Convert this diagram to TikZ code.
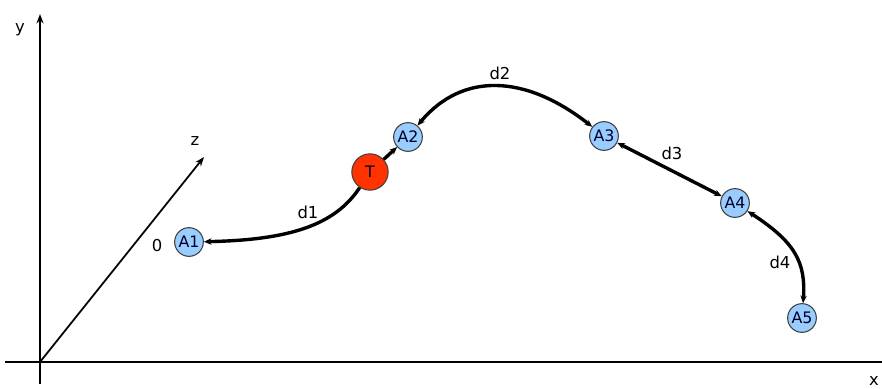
\documentclass[tikz,border=0pt]{standalone}
\usepackage{fontspec}
\setmainfont{DejaVu Sans}
\usetikzlibrary{arrows.meta}
\definecolor{nodeblue}{HTML}{99CCFF}
\definecolor{tred}{HTML}{FF3300}
\begin{document}
\begin{tikzpicture}[x=0.03cm,y=-0.03cm,
  pt/.style={circle,draw=black!75,line width=0.9pt,fill=nodeblue,minimum size=24.5pt,inner sep=0pt,font=\fontsize{13.5}{13.5}\selectfont,text=black!85!blue},
  tnode/.style={pt,fill=tred,minimum size=31pt},
  conn/.style={line width=2.9pt,arrows={Stealth[length=6.5pt,width=5.5pt]-Stealth[length=6.5pt,width=5.5pt]}},
  axis/.style={line width=2pt},
  lbl/.style={font=\fontsize{14}{14}\selectfont,text=black}]
\useasboundingbox (0,0) rectangle (882,389);
% axes
\coordinate (O) at (40,362);
\coordinate (ytop) at (40,14);
\coordinate (ybot) at (40,384);
\coordinate (xl) at (5,362);
\coordinate (xr) at (895,362);
\coordinate (ztip) at (204,157);
\draw[axis,-{Stealth[length=8pt,width=6pt]}] (ybot) -- (ytop);
\draw[axis] (xl) -- (xr);
\draw[line width=1.5pt,-{Stealth[length=8pt,width=6pt]}] (O) -- (ztip);
\node[lbl] (ylab) at (20,30) {y};
\node[lbl] (xlab) at (874,381) {x};
\node[lbl] (zlab) at (195,141) {z};
\node[lbl] (zero) at (157,246) {0};
% points
\node[pt] (A1) at (189,242) {A1};
\node[pt] (A2) at (408,137) {A2};
\node[tnode] (T) at (370,172) {T};
\node[pt] (A3) at (604,136) {A3};
\node[pt] (A4) at (735,203) {A4};
\node[pt] (A5) at (802,318) {A5};
% connectors
\draw[conn,arrows={-Stealth[length=6.5pt,width=5.5pt]}] (T) .. controls (335,225) and (290,240) .. (A1);
\draw[conn,arrows={-Stealth[length=6.5pt,width=5.5pt]}] (T) -- (A2);
\draw[conn] (A2) .. controls (462,72) and (525,74) .. (A3);
\draw[conn] (A3) -- (A4);
\draw[conn] (A4) .. controls (795,242) and (806,262) .. (A5);
% labels
\node[lbl] (d1) at (308,212) {d1};
\node[lbl] (d2) at (500,73) {d2};
\node[lbl] (d3) at (672,153) {d3};
\node[lbl] (d4) at (780,262) {d4};
\end{tikzpicture}
\end{document}
